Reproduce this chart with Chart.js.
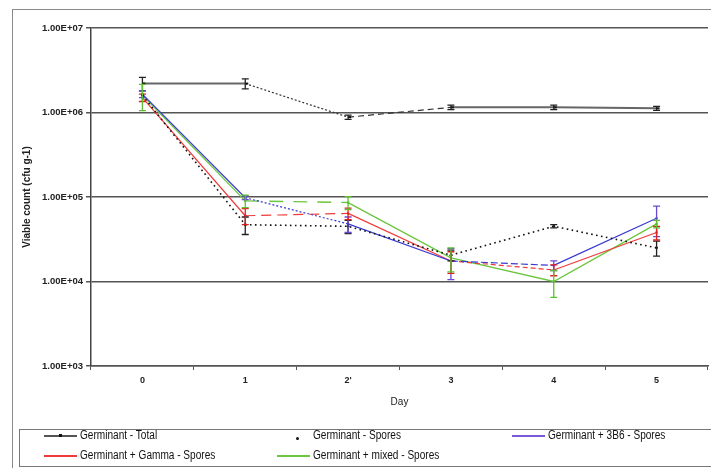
<!DOCTYPE html>
<html>
<head>
<meta charset="utf-8">
<script src="https://cdn.jsdelivr.net/npm/chart.js@4.4.0/dist/chart.umd.min.js"></script>
<style>
  html, body { margin: 0; padding: 0; background: #fff; overflow: hidden; }
  #wrap { position: relative; width: 711px; height: 468px; overflow: hidden; }
  #frame { position: absolute; left: 12px; top: 9px; width: 760px; height: 520px; border: 1px solid #8a8a8a; box-sizing: border-box; }
  #chartBox { position: absolute; left: 0; top: 0; width: 714px; height: 468px; }
  #legend { position: absolute; left: 19px; top: 429px; width: 760px; height: 38px; border: 1px solid #777; box-sizing: border-box; background: #fff;
            font-family: "Liberation Sans", Arial, sans-serif; font-size: 12px; color: #111; }
  .item { position: absolute; height: 14px; line-height: 14px; white-space: nowrap; }
  .sample { position: absolute; top: 7px; height: 1.5px; }
  .txt { position: absolute; top: 0; transform: scaleX(0.84); transform-origin: 0 50%; }
</style>
</head>
<body>
<div id="wrap">
  <div id="frame"></div>
  <div id="chartBox"><canvas id="c" width="714" height="468"></canvas></div>
  <div id="legend"></div>
</div>
<script>
// Sampling days
const days = ['0', '1', "2'", '3', '4', '5'];

// Viable counts (cfu g-1) and their standard errors
const total      = [2.2e6, 2.2e6, 8.8e5, 1.15e6, 1.15e6, 1.12e6];
const totalErr   = [4.0e5, 3.0e5, 5.0e4, 7.0e4, 7.0e4, 6.0e4];
const spores     = [1.6e6, 4.7e4, 4.5e4, 2.05e4, 4.5e4, 2.5e4];
const sporesErr  = [0, 1.1e4, 8.0e3, 3.0e3, 2.0e3, 5.0e3];
const b3b6       = [1.65e6, 9.8e4, 4.8e4, 1.75e4, 1.55e4, 5.6e4];
const b3b6Err    = [1.5e5, 5.0e3, 1.0e4, 7.0e3, 2.0e3, 2.2e4];
const gamma      = [1.5e6, 6.0e4, 6.4e4, 1.75e4, 1.37e4, 3.8e4];
const gammaErr   = [1.5e5, 1.3e4, 1.0e4, 5.0e3, 2.0e3, 7.0e3];
const mixed      = [1.6e6, 9.0e4, 8.6e4, 1.9e4, 1.0e4, 4.8e4];
const mixedErr   = [5.5e5, 1.5e4, 1.5e4, 6.0e3, 3.5e3, 5.0e3];

// Value axis ticks
const yTickValues = [1e3, 1e4, 1e5, 1e6, 1e7];
const yTickLabels = ['1.00E+03', '1.00E+04', '1.00E+05', '1.00E+06', '1.00E+07'];

const seriesLabels = [
  'Germinant - Total',
  'Germinant - Spores',
  'Germinant + 3B6 - Spores',
  'Germinant + Gamma - Spores',
  'Germinant + mixed - Spores'
];

// dash pattern of each line segment (segment i joins day i and day i+1)
function dashBy(patterns) {
  return ctx => patterns[ctx.p0DataIndex] || [];
}

const datasets = [
  {
    label: seriesLabels[0], data: total, errorBars: totalErr,
    borderColor: '#666', backgroundColor: '#111', borderWidth: 2,
    errColor: '#222',
    pointStyle: 'dash', pointRadius: 3, pointBorderColor: '#111', pointBorderWidth: 2,
    segment: {
      borderDash: dashBy([[], [2, 2], [6, 4], [], []]),
      borderColor: ctx => (ctx.p0DataIndex === 1 || ctx.p0DataIndex === 2) ? '#333' : '#666',
      borderWidth: ctx => (ctx.p0DataIndex === 1 || ctx.p0DataIndex === 2) ? 1.2 : 2
    }
  },
  {
    label: seriesLabels[1], data: spores, errorBars: sporesErr,
    borderColor: '#111', backgroundColor: '#111', borderWidth: 1.6,
    errColor: '#222',
    borderDash: [1.6, 3.4],
    pointStyle: 'circle', pointRadius: 1.4, pointBorderWidth: 0
  },
  {
    label: seriesLabels[2], data: b3b6, errorBars: b3b6Err,
    borderColor: '#3a3ad0', backgroundColor: '#3a3ad0', borderWidth: 1.2,
    errColor: '#6a4ad0',
    pointStyle: 'rect', pointRadius: 1.5, pointBorderWidth: 0,
    segment: { borderDash: dashBy([[], [2, 2], [], [7, 3], []]) }
  },
  {
    label: seriesLabels[3], data: gamma, errorBars: gammaErr,
    borderColor: '#f03a3a', backgroundColor: '#e02020', borderWidth: 1.2,
    errColor: '#e02020',
    pointStyle: 'rect', pointRadius: 1.5, pointBorderWidth: 0,
    segment: { borderDash: dashBy([[], [10, 6], [], [5, 3], []]) }
  },
  {
    label: seriesLabels[4], data: mixed, errorBars: mixedErr,
    borderColor: '#6cc640', backgroundColor: '#5cb830', borderWidth: 1.4,
    errColor: '#5cc030',
    pointStyle: 'rect', pointRadius: 1.5, pointBorderWidth: 0,
    segment: { borderDash: dashBy([[], [14, 10], [], [], []]) }
  }
];

// vertical error bars with caps, in the series colour
const errorBarPlugin = {
  id: 'errorBars',
  afterDatasetsDraw(chart) {
    const { ctx, scales: { x, y } } = chart;
    ctx.save();
    chart.data.datasets.forEach(ds => {
      const errs = ds.errorBars;
      if (!errs) return;
      ctx.strokeStyle = ds.errColor || ds.borderColor;
      ctx.lineWidth = 1.3;
      ctx.setLineDash([]);
      ds.data.forEach((v, i) => {
        const e = errs[i];
        if (!e) return;
        const px = x.getPixelForValue(i);
        const top = y.getPixelForValue(v + e);
        const bot = y.getPixelForValue(Math.max(v - e, 1));
        const cap = 3.5;
        ctx.beginPath();
        ctx.moveTo(px, top); ctx.lineTo(px, bot);
        ctx.moveTo(px - cap, top); ctx.lineTo(px + cap, top);
        ctx.moveTo(px - cap, bot); ctx.lineTo(px + cap, bot);
        ctx.stroke();
      });
    });
    ctx.restore();
  }
};

const chart = new Chart(document.getElementById('c'), {
  type: 'line',
  data: { labels: days, datasets },
  options: {
    responsive: false,
    animation: false,
    devicePixelRatio: 1,
    layout: { padding: { left: 0, right: 0, top: 28, bottom: 0 } },
    plugins: { legend: { display: false }, tooltip: { enabled: false } },
    elements: { line: { tension: 0, fill: false } },
    scales: {
      x: {
        type: 'category',
        offset: true,
        grid: { display: true, drawOnChartArea: false, drawTicks: true, tickLength: 4, offset: true, color: '#555', lineWidth: 1 },
        border: { display: true, color: '#555', width: 1.5 },
        ticks: { color: '#222', font: { family: 'Liberation Sans, Arial, sans-serif', size: 9, weight: 'bold' }, padding: 5, maxRotation: 0 },
        title: { display: true, text: 'Day', color: '#222', font: { family: 'Liberation Sans, Arial, sans-serif', size: 10 }, padding: { top: 4, bottom: 60 } },
        afterFit(scale) { scale.height = 102; }
      },
      y: {
        type: 'logarithmic',
        min: 1e3, max: 1e7,
        afterBuildTicks(scale) { scale.ticks = yTickValues.map(v => ({ value: v })); },
        grid: { color: '#555', lineWidth: 1.5, drawTicks: true, tickLength: 5 },
        border: { display: true, color: '#444', width: 1.5 },
        ticks: {
          color: '#222', padding: 3,
          font: { family: 'Liberation Sans, Arial, sans-serif', size: 9.5, weight: 'bold' },
          callback: v => { const i = yTickValues.indexOf(v); return i >= 0 ? yTickLabels[i] : ''; }
        },
        title: { display: true, text: 'Viable count (cfu g-1)', color: '#222', font: { family: 'Liberation Sans, Arial, sans-serif', size: 10, weight: 'bold' }, padding: { top: 21, bottom: 0 } },
        afterFit(scale) { scale.width = 91; }
      }
    }
  },
  plugins: [errorBarPlugin]
});

// legend below the plot, two rows of entries
const legendSlots = [
  { left: 24,  top: -2, sample: 'line+mark', color: '#555' },
  { left: 257, top: -2, sample: 'dot',       color: '#111' },
  { left: 492, top: -2, sample: 'line',      color: '#7a5ad8' },
  { left: 24,  top: 18, sample: 'line',      color: '#f03a3a' },
  { left: 257, top: 18, sample: 'line',      color: '#6cc640' }
];
const sampleWidth = 33;
const legendEl = document.getElementById('legend');
legendSlots.forEach((s, i) => {
  const item = document.createElement('div');
  item.className = 'item';
  item.style.left = s.left + 'px';
  item.style.top = s.top + 'px';
  const smp = document.createElement('div');
  smp.className = 'sample';
  smp.style.left = '0px';
  smp.style.width = sampleWidth + 'px';
  if (s.sample !== 'dot') smp.style.background = s.color;
  if (s.sample === 'line+mark' || s.sample === 'dot') {
    const m = document.createElement('div');
    m.style.position = 'absolute';
    m.style.left = (s.sample === 'dot' ? 19 : 15) + 'px';
    m.style.top = s.sample === 'dot' ? '2px' : '-1px';
    m.style.width = '3px'; m.style.height = '3px';
    m.style.background = '#111';
    m.style.borderRadius = s.sample === 'dot' ? '50%' : '0';
    smp.appendChild(m);
  }
  const t = document.createElement('div');
  t.className = 'txt';
  t.style.left = (sampleWidth + 3) + 'px';
  t.textContent = chart.data.datasets[i].label;
  item.appendChild(smp);
  item.appendChild(t);
  legendEl.appendChild(item);
});
</script>
</body>
</html>
